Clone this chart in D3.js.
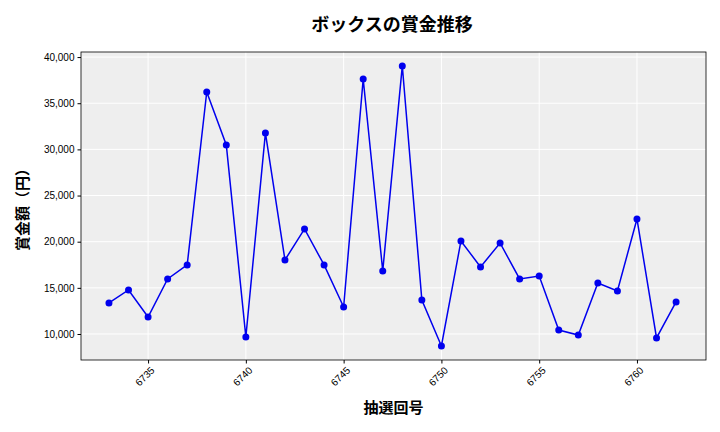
<!DOCTYPE html>
<html><head><meta charset="utf-8">
<script src="https://cdn.jsdelivr.net/npm/d3@7"></script>
<style>body{margin:0;background:#fff;font-family:"Noto Sans CJK JP","DejaVu Sans",sans-serif}</style>
</head><body><div id="chart"></div>
<script>
const draws = d3.range(6733, 6763);
const prizes = [13360,14770,11840,15960,17480,36220,30480,9680,31780,18020,21380,17480,12930,37630,16830,39040,13680,8700,20080,17260,19860,15960,16280,10430,9890,15530,14660,22460,9570,13470];
const xTicks = [6735,6740,6745,6750,6755,6760];
const yTicks = [10000,15000,20000,25000,30000,35000,40000];

const W = 720, H = 432;
const margin = {top: 52, right: 14, bottom: 72, left: 81};
const w = W - margin.left - margin.right, h = H - margin.top - margin.bottom;

const svg = d3.select("#chart").append("svg").attr("width", W).attr("height", H);
const g = svg.append("g").attr("transform", "translate(" + margin.left + "," + margin.top + ")");

let x = d3.scaleLinear().domain([6731.57, 6763.53]).range([0, w]);
let y = d3.scaleLinear().domain([7183, 40550]).range([h, 0]);

g.append("rect").attr("width", w).attr("height", h).attr("fill", "#eeeeee");

// grid
g.selectAll(".gx").data(xTicks).enter().append("line")
  .attr("x1", d => x(d)).attr("x2", d => x(d)).attr("y1", 0).attr("y2", h)
  .attr("stroke", "#fff").attr("stroke-width", 1);
g.selectAll(".gy").data(yTicks).enter().append("line")
  .attr("y1", d => y(d)).attr("y2", d => y(d)).attr("x1", 0).attr("x2", w)
  .attr("stroke", "#fff").attr("stroke-width", 1);

g.append("rect").attr("width", w).attr("height", h).attr("fill", "none").attr("stroke", "#000").attr("stroke-width", 0.8);

const xa = g.append("g").attr("transform", "translate(0," + h + ")")
  .call(d3.axisBottom(x).tickValues(xTicks).tickFormat(d3.format("d")).tickSize(3.5));
xa.selectAll("text").attr("transform", "rotate(-45)").attr("text-anchor", "end")
  .attr("dx", "-0.3em").attr("dy", "0.6em").style("font-size", "10px");
const ya = g.append("g")
  .call(d3.axisLeft(y).tickValues(yTicks).tickFormat(d3.format(",")).tickSize(3.5));
ya.selectAll("text").style("font-size", "10px");
g.selectAll(".domain").remove();

const pts = draws.map((d, i) => [d, prizes[i]]);
g.append("path").datum(pts).attr("fill", "none").attr("stroke", "#0000ee").attr("stroke-width", 1.5)
  .attr("d", d3.line().x(d => x(d[0])).y(d => y(d[1])));
g.selectAll("circle").data(pts).enter().append("circle")
  .attr("cx", d => x(d[0])).attr("cy", d => y(d[1])).attr("r", 3.5).attr("fill", "#0000ee");

svg.append("text").attr("x", W / 2 + 32).attr("y", 31).attr("text-anchor", "middle")
  .style("font-size", "18px").style("font-weight", "bold").text("ボックスの賞金推移");
svg.append("text").attr("x", margin.left + w / 2).attr("y", 413).attr("text-anchor", "middle")
  .style("font-size", "15px").style("font-weight", "bold").text("抽選回号");
svg.append("text").attr("transform", "translate(28," + (margin.top + h / 2) + ") rotate(-90)")
  .attr("text-anchor", "middle").style("font-size", "15px").style("font-weight", "bold").text("賞金額（円）");
</script></body></html>
